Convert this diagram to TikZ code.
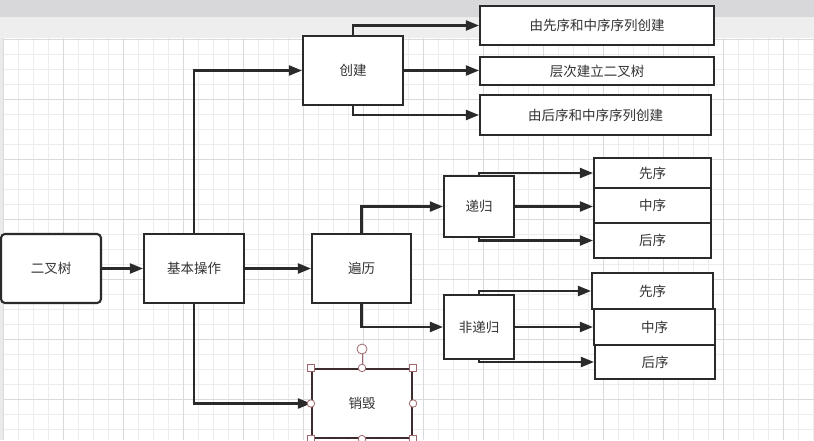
\documentclass[tikz,border=0pt]{standalone}
\usepackage{fontspec}
\newfontfamily\cjk{Noto Sans CJK SC}
\usetikzlibrary{arrows.meta}
\definecolor{ink}{HTML}{2A2A2A}
\definecolor{txt}{HTML}{333333}
\definecolor{gminor}{HTML}{ECECEC}
\definecolor{gmajor}{HTML}{DADADA}
\definecolor{selb}{HTML}{3D2B2D}
\definecolor{handle}{HTML}{A0686C}
\definecolor{bandA}{HTML}{D8D8DA}
\definecolor{bandB}{HTML}{EEEEEE}
\definecolor{sidebar}{HTML}{EAEAEA}
\tikzset{
  box/.style={draw=ink, line width=2.1pt, fill=white, inner sep=0pt, text=txt,
    font=\cjk\fontsize{13.5}{16}\selectfont},
  conn/.style={draw=ink, line width=2.1pt, -{Triangle[length=13pt,width=10pt]}},
  hsq/.style={draw=handle, fill=white, line width=0.8pt, minimum size=7pt, inner sep=0pt},
  hci/.style={draw=handle, fill=white, line width=0.8pt, circle, minimum size=7.5pt, inner sep=0pt}
}
\begin{document}
\begin{tikzpicture}[x=1pt,y=-1pt]
\useasboundingbox (0,0) rectangle (814,440);
\begin{scope}
\clip (0,0) rectangle (814,440);
% background bands
\fill[white] (0,0) rectangle (814,440);
\fill[bandA] (0,0) rectangle (814,17);
\fill[bandB] (0,17) rectangle (814,38);
\fill[sidebar] (0,38) rectangle (3,440);
% grid
\foreach \x in {3,18,...,813} \draw[gminor, line width=0.8pt] (\x,38) -- (\x,440);
\foreach \y in {39,54,...,440} \draw[gminor, line width=0.8pt] (3,\y) -- (814,\y);
\foreach \x in {3,63,...,813} \draw[gmajor, line width=0.8pt] (\x,38) -- (\x,440);
\foreach \y in {39,99,...,440} \draw[gmajor, line width=0.8pt] (3,\y) -- (814,\y);
\end{scope}

% nodes
\node[box, rounded corners=4pt, minimum width=100pt, minimum height=69pt] (er) at (51,268.5) {二叉树};
\node[box, minimum width=100pt, minimum height=69pt] (jb) at (194,268.5) {基本操作};
\node[box, minimum width=100pt, minimum height=69pt] (cj) at (353,70.5) {创建};
\node[box, minimum width=234pt, minimum height=39pt] (c1) at (597,25.5) {由先序和中序序列创建};
\node[box, minimum width=234pt, minimum height=28pt] (c2) at (597,71) {层次建立二叉树};
\node[box, minimum width=231pt, minimum height=40pt] (c3) at (595.5,115) {由后序和中序序列创建};
\node[box, minimum width=99pt, minimum height=69pt] (bl) at (361.5,268.5) {遍历};
\node[box, minimum width=70pt, minimum height=61pt] (dg) at (479,206.5) {递归};
\node[box, minimum width=117pt, minimum height=30pt] (d1) at (652.5,173) {先序};
\node[box, minimum width=117pt, minimum height=35pt] (d2) at (652.5,205.5) {中序};
\node[box, minimum width=117pt, minimum height=35pt] (d3) at (652.5,240.5) {后序};
\node[box, minimum width=70pt, minimum height=64pt] (fd) at (479,327) {非递归};
\node[box, minimum width=121pt, minimum height=36pt] (f1) at (652.5,291) {先序};
\node[box, minimum width=121pt, minimum height=36pt] (f2) at (654.5,327) {中序};
\node[box, minimum width=120pt, minimum height=34pt] (f3) at (655,362) {后序};
\node[box, draw=selb, minimum width=100pt, minimum height=69pt] (xh) at (362,403.5) {销毁};

% connectors
\draw[conn] (er) -- (jb);
\draw[conn] (jb) -- (bl);
\draw[conn] (jb.north) |- (cj.west);
\draw[conn] (jb.south) |- (xh.west);
\draw[conn] (cj.north) |- (c1.west);
\draw[conn] (cj.east) -- (cj.east -| c2.west);
\draw[conn] (cj.south) |- (c3.west);
\draw[conn] (bl.north) |- (dg.west);
\draw[conn] (bl.south) |- (fd.west);
\draw[conn] (dg.north) |- (d1.west);
\draw[conn] (dg.east) -- (dg.east -| d2.west);
\draw[conn] (dg.south) |- (d3.west);
\draw[conn] (fd.north) |- (f1.west);
\draw[conn] (fd.east) -- (fd.east -| f2.west);
\draw[conn] (fd.south) |- (f3.west);

% selection handles on 销毁
\coordinate (rot) at (362,349);
\draw[handle, line width=0.8pt] (rot) -- (xh.north);
\node[hci, minimum size=10pt] (rh) at (rot) {};
\foreach \a in {north west,north east,south west,south east}
  \node[hsq] at (xh.\a) {};
\foreach \a in {north,south,east,west}
  \node[hci] at (xh.\a) {};
\end{tikzpicture}
\end{document}
